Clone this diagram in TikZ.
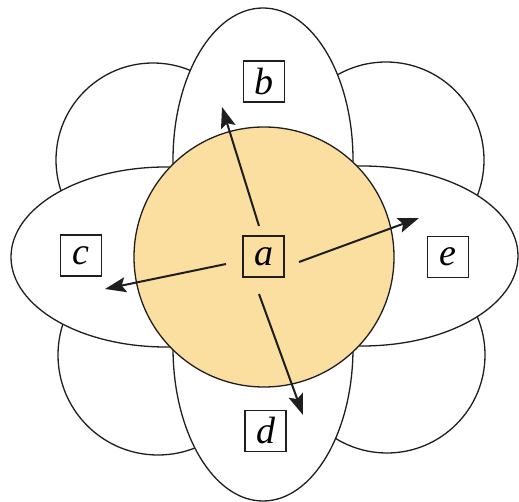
\documentclass[tikz,border=0pt]{standalone}
\usepackage{fontspec}
\setmainfont{Liberation Serif}
\usetikzlibrary{arrows.meta}
\definecolor{petal}{RGB}{251,223,161}
\definecolor{ink}{RGB}{30,30,30}
\begin{document}
\begin{tikzpicture}[x=1pt,y=-1pt,
  outline/.style={draw=ink, line width=1.3pt, fill=white},
  lbl/.style={draw=ink, line width=1.1pt, minimum size=41pt, inner sep=0pt,
    font=\fontsize{38}{38}\selectfont\itshape},
  dir/.style={draw=ink, line width=2pt, -{Stealth[length=21pt,width=15pt,inset=4pt]}}]
\useasboundingbox (0,0) rectangle (519,502);
% corner circles
\path[outline] (153,160) circle[radius=97pt];
\path[outline] (386,160) circle[radius=98pt];
\path[outline] (158,355) circle[radius=100pt];
\path[outline] (387,355) circle[radius=98pt];
% petals
\path[outline] (263,160) ellipse[x radius=90pt, y radius=152pt];
\path[outline] (263,348) ellipse[x radius=90pt, y radius=153pt];
\path[outline] (166,257) ellipse[x radius=155pt, y radius=90pt];
\path[outline] (362,256) ellipse[x radius=156pt, y radius=90pt];
% centre
\path[outline, fill=petal] (264,257) circle[radius=130pt];
% labels
\node[lbl] (a) at (263.5,256.5) {a};
\node[lbl, fill=white] (b) at (264,81.5) {b};
\node[lbl, fill=white] (c) at (81,255.5) {c};
\node[lbl, fill=white] (d) at (265.5,431) {d};
\node[lbl, fill=white] (e) at (448,257) {e};
% arrow ends
\coordinate (sb) at (259,226);
\coordinate (tb) at (222,107);
\coordinate (se) at (299,262);
\coordinate (te) at (419,218);
\coordinate (sc) at (226,264);
\coordinate (tc) at (105,289);
\coordinate (sd) at (259,294);
\coordinate (td) at (303,415);
\draw[dir] (sb) -- (tb);
\draw[dir] (se) -- (te);
\draw[dir] (sc) -- (tc);
\draw[dir] (sd) -- (td);
\end{tikzpicture}
\end{document}
